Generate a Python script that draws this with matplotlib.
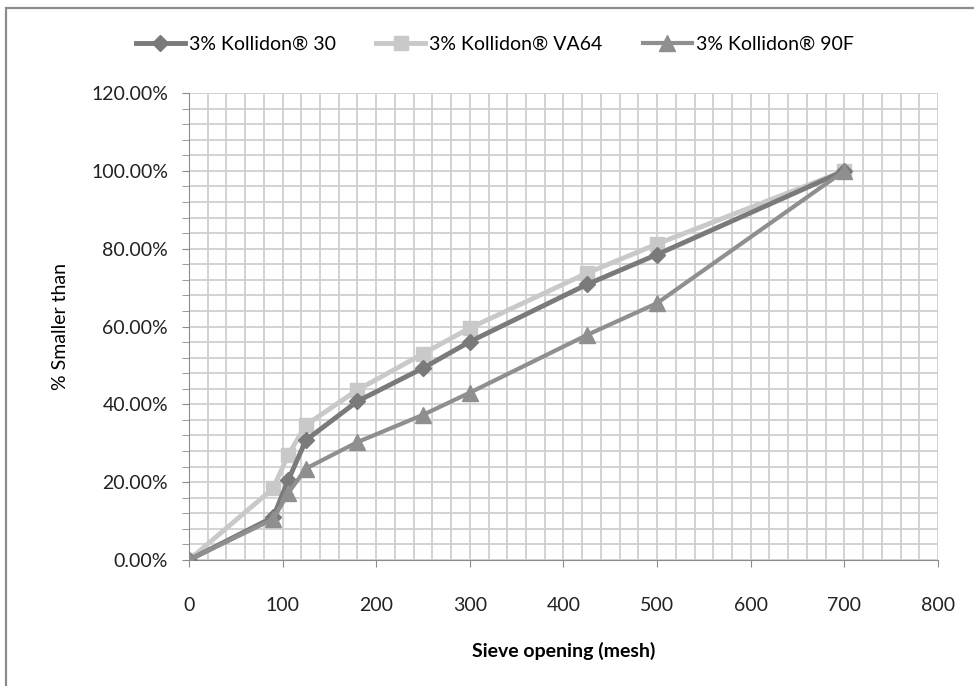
import matplotlib
matplotlib.use('Agg')
import matplotlib.pyplot as plt
from matplotlib.ticker import MultipleLocator, FuncFormatter
from matplotlib.patches import Rectangle

# sieve openings (mesh) and cumulative % smaller than
sieve = [0, 90, 106, 125, 180, 250, 300, 425, 500, 700]
k30 = [0.0, 11.0, 20.5, 30.8, 40.8, 49.3, 56.1, 70.8, 78.5, 100.0]
va64 = [0.0, 18.4, 27.0, 34.7, 43.7, 53.0, 59.6, 73.7, 81.2, 100.0]
k90f = [0.0, 10.5, 17.2, 23.5, 30.3, 37.3, 43.0, 57.8, 66.0, 100.0]

labels = ['3% Kollidon\u00ae 30', '3% Kollidon\u00ae VA64', '3% Kollidon\u00ae 90F']

plt.rcParams['font.family'] = ['Lato', 'DejaVu Sans']

fig = plt.figure(figsize=(9.74, 6.86), dpi=100)
ax = fig.add_axes([0.194, 0.1837, 0.769, 0.6807])

# chart border (Excel style)
fig.patches.append(Rectangle((6 / 974, -0.1), 1.2, 1.1 - 8 / 686,
                             transform=fig.transFigure, fill=False,
                             edgecolor='#8c8c8c', lw=1.6))

ax.plot(sieve, k30, '-D', color='#7a7a7a', lw=3.5, ms=8.5, label=labels[0], zorder=4)
ax.plot(sieve, va64, '-s', color='#c9c9c9', lw=3.5, ms=10.5, label=labels[1], zorder=3)
ax.plot(sieve, k90f, '-^', color='#8f8f8f', lw=3, ms=11, label=labels[2], zorder=5)

ax.set_xlim(0, 800)
ax.set_ylim(0, 120)
ax.xaxis.set_major_locator(MultipleLocator(100))
ax.xaxis.set_minor_locator(MultipleLocator(20))
ax.yaxis.set_major_locator(MultipleLocator(20))
ax.yaxis.set_minor_locator(MultipleLocator(4))
ax.yaxis.set_major_formatter(FuncFormatter(lambda v, p: '%.2f%%' % v))

ax.grid(which='both', color='#d0d0d0', lw=1.3)
ax.set_axisbelow(True)
for s in ['top', 'right']:
    ax.spines[s].set_visible(False)
ax.spines['left'].set_color('#8c8c8c')
ax.spines['bottom'].set_color('#8c8c8c')
ax.tick_params(axis='y', which='both', direction='out', length=5, color='#8c8c8c',
               labelsize=14, pad=10, labelcolor='#222222')
ax.tick_params(axis='x', which='major', length=5, color='#8c8c8c', labelsize=14, pad=22,
               labelcolor='#222222')
ax.tick_params(axis='x', which='minor', length=0)

ax.set_xlabel('Sieve opening (mesh)', fontsize=14, fontweight='bold', labelpad=20)
ax.set_ylabel('% Smaller than', fontsize=14, labelpad=16)

fig.legend(loc='center', bbox_to_anchor=(0.508, 0.935), ncol=3, frameon=False,
           fontsize=14, handlelength=2.5, columnspacing=2.1, handletextpad=0.2)

fig.savefig('out.png', dpi=100)
